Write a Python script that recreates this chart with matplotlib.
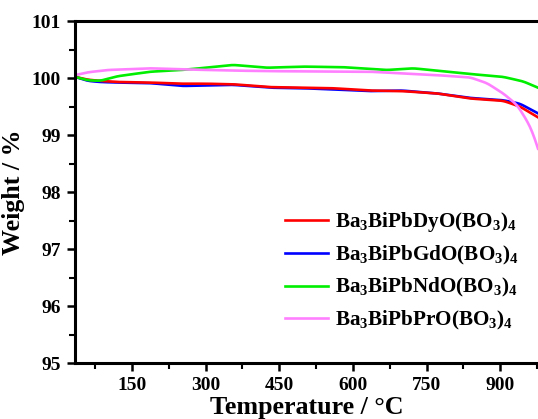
import numpy as np
import matplotlib.pyplot as plt
from matplotlib.ticker import MultipleLocator

plt.rcParams['font.family'] = 'Liberation Serif'
plt.rcParams['font.weight'] = 'bold'
plt.rcParams['mathtext.fontset'] = 'custom'
plt.rcParams['mathtext.rm'] = 'Liberation Serif:bold'
plt.rcParams['mathtext.it'] = 'Liberation Serif:bold'
plt.rcParams['mathtext.bf'] = 'Liberation Serif:bold'

# TGA curves, temperature in degC and weight in %
temp_dy = [34, 60, 85, 120, 187, 250, 300, 356, 431, 500, 560, 635, 700, 771, 839, 906, 940, 977]
w_dy = [100.02, 99.97, 99.95, 99.93, 99.92, 99.90, 99.90, 99.89, 99.84, 99.83, 99.82, 99.78, 99.77, 99.73, 99.64, 99.60, 99.50, 99.31]

temp_gd = [34, 60, 85, 120, 187, 254, 300, 356, 431, 500, 560, 635, 700, 771, 839, 906, 940, 977]
w_gd = [100.02, 99.95, 99.93, 99.92, 99.91, 99.86, 99.87, 99.88, 99.83, 99.82, 99.80, 99.77, 99.78, 99.73, 99.65, 99.61, 99.55, 99.38]

temp_nd = [34, 60, 85, 120, 187, 250, 300, 356, 425, 499, 580, 669, 723, 771, 839, 906, 947, 977]
w_nd = [100.02, 99.96, 99.95, 100.03, 100.11, 100.14, 100.18, 100.23, 100.18, 100.20, 100.19, 100.14, 100.17, 100.13, 100.07, 100.02, 99.94, 99.83]

temp_pr = [34, 60, 100, 187, 260, 356, 431, 635, 771, 839, 873, 906, 934, 954, 966, 977]
w_pr = [100.05, 100.10, 100.14, 100.17, 100.15, 100.13, 100.12, 100.11, 100.05, 100.01, 99.91, 99.73, 99.53, 99.26, 99.05, 98.76]

labels = [r'Ba$_3$BiPbDyO(BO$_3$)$_4$', r'Ba$_3$BiPbGdO(BO$_3$)$_4$',
          r'Ba$_3$BiPbNdO(BO$_3$)$_4$', r'Ba$_3$BiPbPrO(BO$_3$)$_4$']
colors = ['#ff0000', '#0000ff', '#00ee00', '#ff80ff']

fig = plt.figure(figsize=(5.38, 4.19), dpi=100)
ax = fig.add_axes([75/538, 56/419, 463/538, 342/419])

series = [(temp_gd, w_gd, 1), (temp_dy, w_dy, 0), (temp_nd, w_nd, 2), (temp_pr, w_pr, 3)]
handles = {}
for t, w, i in series:
    tt = np.linspace(t[0], t[-1], 400)
    ww = np.interp(tt, t, w)
    # light smoothing of the piecewise curve
    k = np.ones(7) / 7
    ws = np.convolve(np.pad(ww, 3, mode='reflect', reflect_type='odd'), k, mode='valid')
    ln, = ax.plot(tt, ws, color=colors[i], lw=1.9, label=labels[i])
    handles[i] = ln

ax.set_xlim(34, 977)
ax.set_ylim(95, 101)
ax.xaxis.set_minor_locator(MultipleLocator(75))
ax.yaxis.set_major_locator(MultipleLocator(1))
ax.yaxis.set_minor_locator(MultipleLocator(0.5))
ax.set_xticks([150, 300, 450, 600, 750, 900])
ax.tick_params(which='major', direction='out', length=6, width=1.8, labelsize=14, pad=4)
ax.tick_params(which='minor', direction='out', length=4, width=1.5)
for s in ['left', 'bottom', 'top']:
    ax.spines[s].set_linewidth(2.2)
ax.spines['right'].set_visible(False)

ax.set_xlabel('Temperature / °C', fontsize=18.7, fontweight='bold', labelpad=1.5)
ax.set_ylabel('Weight / %', fontsize=18.7, fontweight='bold', labelpad=5)

ax.legend([handles[i] for i in range(4)], labels, loc='lower right',
          bbox_to_anchor=(1.0, 0.035), frameon=False, fontsize=15.2,
          handlelength=2.0, labelspacing=0.45, handletextpad=0.35)

fig.savefig('out.png', dpi=100)
